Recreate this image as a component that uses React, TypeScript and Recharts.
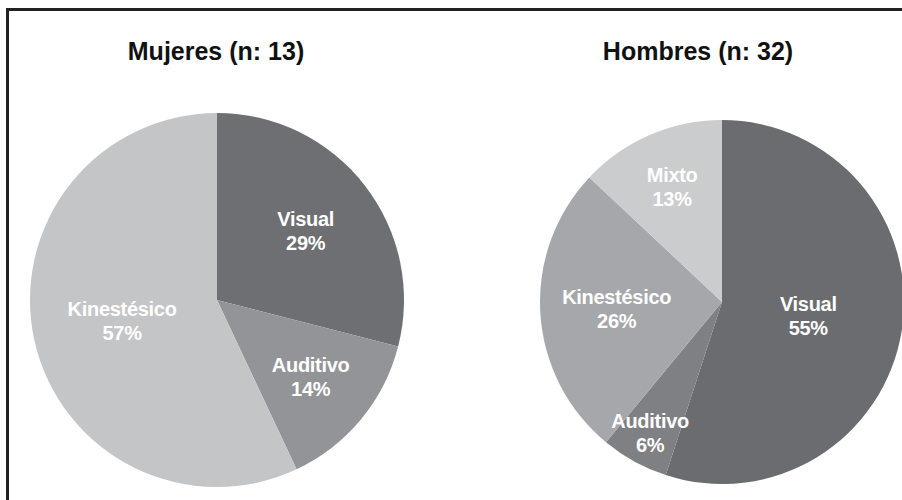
import { PieChart, Pie, Cell } from 'recharts';

const womenStyles = ['Visual', 'Auditivo', 'Kinestésico'];
const womenPercent = [29, 14, 57];
const womenColors = ['#6e6f72', '#939497', '#c4c5c7'];
const womenLabelRadius = [0.6, 0.65, 0.52];

const menStyles = ['Visual', 'Auditivo', 'Kinestésico', 'Mixto'];
const menPercent = [55, 6, 26, 13];
const menColors = ['#6b6c6f', '#7f8083', '#a6a7aa', '#cbcccd'];
const menLabelRadius = [0.48, 0.82, 0.58, 0.69];

const titles = ['Mujeres (n: 13)', 'Hombres (n: 32)'];

const RAD = Math.PI / 180;
const font = '"Liberation Sans", Arial, sans-serif';

function makeLabel(radii: number[]) {
  return (props: any) => {
    const { cx, cy, midAngle, outerRadius, name, value, index } = props;
    const r = outerRadius * radii[index];
    const x = cx + r * Math.cos(-midAngle * RAD);
    const y = cy + r * Math.sin(-midAngle * RAD);
    return (
      <text
        x={x}
        y={y}
        textAnchor="middle"
        fill="#ffffff"
        fontFamily={font}
        fontWeight="bold"
        fontSize={20}
        letterSpacing={-0.3}
      >
        <tspan x={x} y={y - 5}>{name}</tspan>
        <tspan x={x} y={y + 19}>{value}%</tspan>
      </text>
    );
  };
}

const titleStyle = {
  position: 'absolute' as const,
  top: 39,
  width: 300,
  textAlign: 'center' as const,
  fontFamily: font,
  fontWeight: 'bold',
  fontSize: 25,
  lineHeight: '25px',
  color: '#111111',
};

export default function App() {
  const women = womenStyles.map((name, i) => ({ name, value: womenPercent[i] }));
  const men = menStyles.map((name, i) => ({ name, value: menPercent[i] }));

  return (
    <div style={{ position: 'absolute', left: 0, top: 0, width: 902, height: 500, overflow: 'hidden', background: '#ffffff' }}>
      <div style={{ position: 'absolute', left: 6, top: 8, width: 1000, height: 600, border: '3px solid #222222' }} />
      <div style={{ ...titleStyle, left: 66 }}>{titles[0]}</div>
      <div style={{ ...titleStyle, left: 548 }}>{titles[1]}</div>
      <div style={{ position: 'absolute', left: 0, top: 0 }}>
        <PieChart width={902} height={500}>
          <Pie
            data={women}
            dataKey="value"
            nameKey="name"
            cx={212}
            cy={295}
            outerRadius={187}
            startAngle={90}
            endAngle={-270}
            stroke="none"
            labelLine={false}
            label={makeLabel(womenLabelRadius)}
            isAnimationActive={false}
          >
            {women.map((d, i) => (
              <Cell key={d.name} fill={womenColors[i]} />
            ))}
          </Pie>
          <Pie
            data={men}
            dataKey="value"
            nameKey="name"
            cx={717}
            cy={297}
            outerRadius={182}
            startAngle={90}
            endAngle={-270}
            stroke="none"
            labelLine={false}
            label={makeLabel(menLabelRadius)}
            isAnimationActive={false}
          >
            {men.map((d, i) => (
              <Cell key={d.name} fill={menColors[i]} />
            ))}
          </Pie>
        </PieChart>
      </div>
    </div>
  );
}
